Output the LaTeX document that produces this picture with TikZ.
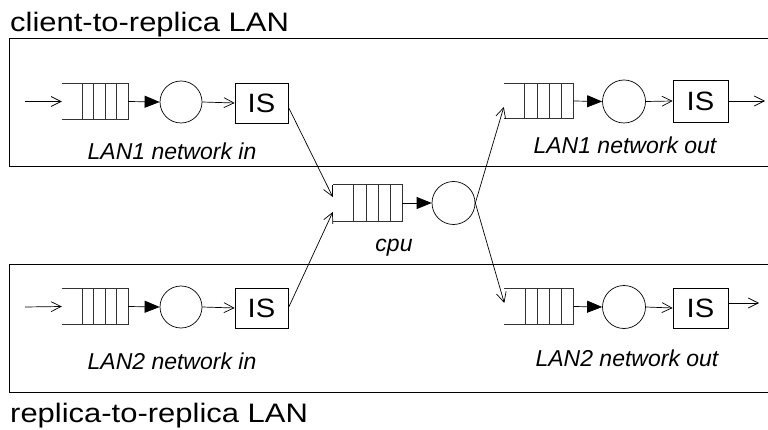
\documentclass[tikz,border=0pt]{standalone}
\usepackage{fontspec}
\setmainfont{Liberation Sans}
\newfontfamily\widesans[FakeStretch=1.16]{Liberation Sans}
\newfontfamily\isfont[FakeStretch=1.1]{Liberation Sans}
\usetikzlibrary{arrows.meta,calc}
\tikzset{
  qbox/.style={rectangle, draw=none, minimum width=66pt, minimum height=35pt, inner sep=0pt},
  qline/.style={line width=0.7pt, draw=black!80},
  srv/.style={circle, draw, line width=0.7pt, minimum size=42pt, inner sep=0pt},
  isbox/.style={rectangle, draw, line width=0.7pt, minimum width=53pt, minimum height=40pt, inner sep=0pt, font=\isfont\fontsize{26.5}{30}\selectfont},
  farr/.style={line width=0.7pt, -{Triangle[length=15pt,width=12pt]}},
  oarr/.style={line width=0.7pt, -{Straight Barb[length=10pt,width=10pt,line width=0.7pt]}},
  lab/.style={anchor=base, font=\fontsize{23}{26}\selectfont\itshape},
  ttl/.style={anchor=base west, inner sep=0pt, font=\widesans\fontsize{26.7}{32}\selectfont},
  frame/.style={line width=0.8pt}
}
\newcommand\drawqueue[1]{%
  \draw[qline] (#1.north west) -- (#1.north east) -- (#1.south east) -- (#1.south west);
  \foreach \f in {0.303,0.477,0.652,0.826}
    \draw[qline] ($(#1.north west)!\f!(#1.north east)$) -- ($(#1.south west)!\f!(#1.south east)$);
}
\begin{document}
\begin{tikzpicture}[x=1pt,y=-1pt]
\useasboundingbox (0,0) rectangle (768,430);
% frames
\draw[frame] (768,38) -- (9,38) -- (9,166) -- (768,166);
\draw[frame] (768,264) -- (9,264) -- (9,392) -- (768,392);
\node[ttl] (t1) at (10,31.5) {client-to-replica LAN};
\node[ttl] (t2) at (10,422) {replica-to-replica LAN};
% LAN1 in
\coordinate (i1) at (25,101.5);
\node[qbox] (q1) at (95,101.5) {};
\node[srv] (c1) at (181,102) {};
\node[isbox] (s1) at (261.5,103) {IS};
\drawqueue{q1}
\draw[oarr] (i1) -- (q1.west);
\draw[farr] (q1.east) -- (c1.west);
\draw[oarr] (c1.east) -- (s1.west);
\node[lab] (l1) at (172,160) {LAN1 network in};
% LAN2 in
\coordinate (i2) at (25,307);
\node[qbox] (q2) at (95,306.5) {};
\node[srv] (c2) at (181,307) {};
\node[isbox] (s2) at (261.5,308) {IS};
\drawqueue{q2}
\draw[oarr] (i2) -- (q2.west);
\draw[farr] (q2.east) -- (c2.west);
\draw[oarr] (c2.east) -- (s2.west);
\node[lab] (l2) at (172,369) {LAN2 network in};
% cpu
\node[qbox, minimum width=69pt, minimum height=36pt] (q3) at (367.5,203) {};
\node[srv, minimum size=43pt] (c3) at (453.5,203) {};
\drawqueue{q3}
\draw[farr] (q3.east) -- (c3.west);
\node[lab] (l3) at (394,252) {cpu};
% LAN1 out
\node[qbox, minimum width=69pt] (q4) at (538.5,101) {};
\node[srv, minimum size=43pt] (c4) at (624,101.5) {};
\node[isbox, minimum width=55pt, minimum height=42pt] (s4) at (700.5,101) {IS};
\coordinate (o1) at (765,101);
\drawqueue{q4}
\draw[farr] (q4.east) -- (c4.west);
\draw[oarr] (c4.east) -- (s4.west);
\draw[oarr] (s4.east) -- (o1);
\node[lab] (l4) at (625,154) {LAN1 network out};
% LAN2 out
\node[qbox, minimum width=69pt] (q5) at (539,306.5) {};
\node[srv, minimum size=43pt] (c5) at (624,307) {};
\node[isbox, minimum width=55pt] (s5) at (700.5,308) {IS};
\coordinate (o2) at (759,303);
\drawqueue{q5}
\draw[farr] (q5.east) -- (c5.west);
\draw[oarr] (c5.east) -- (s5.west);
\draw[oarr] (s5.east |- o2) -- (o2);
\node[lab] (l5) at (627,366) {LAN2 network out};
% cross connectors
\draw[oarr] ($(s1.east)+(0,4)$) -- ($(q3.west)+(0,-6)$);
\draw[oarr] (s2.east) -- ($(q3.west)+(0,9)$);
\draw[oarr] (c3.east) -- ($(q4.west)+(0,6)$);
\draw[oarr] (c3.east) -- ($(q5.west)+(0,-3.5)$);
\end{tikzpicture}
\end{document}
